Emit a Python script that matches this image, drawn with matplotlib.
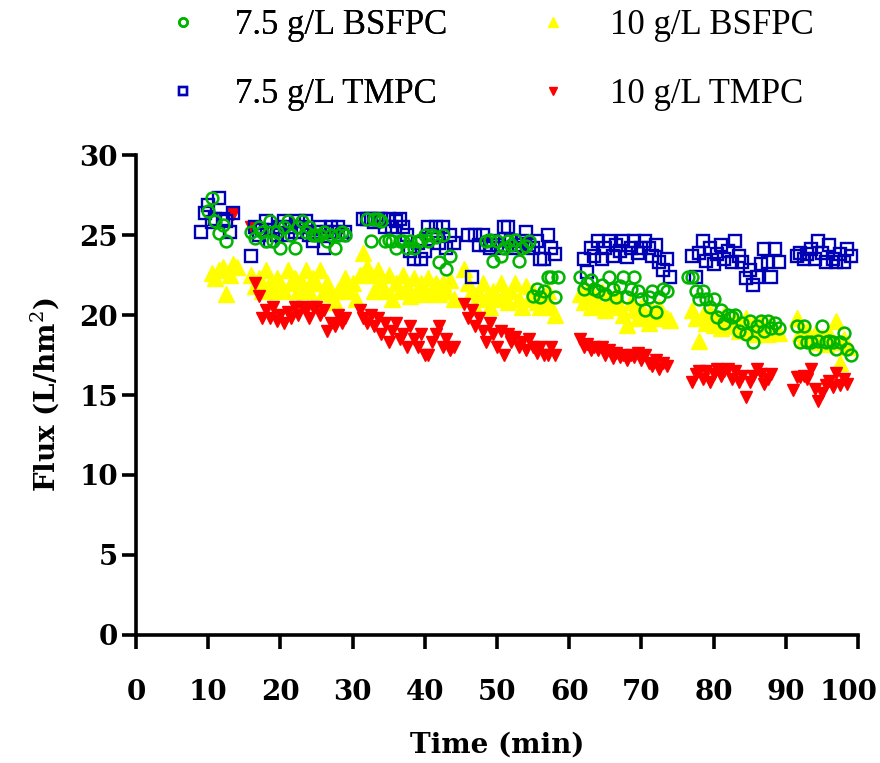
import matplotlib
matplotlib.use('Agg')
import matplotlib.pyplot as plt
from matplotlib.transforms import ScaledTranslation

plt.rcParams['font.family'] = ['DejaVu Serif']
plt.rcParams['mathtext.fontset'] = 'dejavuserif'

# 7.5 g/L BSFPC
green_t = [10, 10.5, 11, 11.5, 12, 12.5,
           16, 16.5, 17, 17.5, 18, 18.5, 19, 19.5, 20, 20.5, 21, 21.5, 22, 22.5, 23, 23.5, 24, 24.5,
           25, 25.5, 26, 26.5, 27, 27.5, 28, 28.5, 29,
           32, 32.5, 33, 33.5, 34, 34.5, 35, 35.5, 36, 36.5, 37, 37.5, 38, 38.5, 39, 39.5, 40, 40.5,
           41, 41.5, 42, 42.5, 43, 43.5,
           48.5, 49, 49.5, 50, 50.5, 51, 51.5, 52, 52.5, 53, 53.5, 54, 54.5, 55, 55.5, 56, 56.5, 57,
           57.5, 58, 58.5,
           61.5, 62, 62.5, 63, 63.5, 64, 64.5, 65, 65.5, 66, 66.5, 67, 67.5, 68, 68.5, 69, 69.5, 70,
           70.5, 71, 71.5, 72, 72.5, 73, 73.5,
           76.5, 77, 77.5, 78, 78.5, 79, 79.5, 80, 80.5, 81, 81.5, 82, 82.5, 83, 83.5, 84, 84.5, 85,
           85.5, 86, 86.5, 87, 87.5, 88, 88.5, 89,
           91.5, 92, 92.5, 93, 93.5, 94, 94.5, 95, 95.5, 96, 96.5, 97, 97.5, 98, 98.5, 99]
green_v = [26.5, 27.3, 25.9, 25.1, 25.6, 24.6,
           25.2, 24.8, 25.5, 25.2, 24.6, 25.9, 24.6, 25.2, 24.2, 25.5, 25.9, 25.0, 24.2, 25.5, 25.9,
           25.2, 25.5, 25.0, 25.0, 25.0, 25.2, 24.6, 25.0, 24.2, 25.0, 25.2, 25.0,
           26.0, 24.6, 26.0, 26.0, 25.9, 24.6, 24.7, 24.6, 24.2, 24.6, 24.6, 24.2, 24.6, 24.2, 24.6,
           24.7, 25.0, 24.6, 25.0, 24.9, 23.3, 25.0, 22.9, 23.7,
           24.6, 24.7, 23.4, 24.6, 23.7, 24.2, 24.6, 24.4, 24.7, 23.4, 24.2, 24.3, 24.6, 21.2, 21.6,
           21.1, 21.5, 22.4, 22.4, 21.1, 22.4,
           22.4, 21.6, 22.0, 22.2, 21.6, 21.5, 21.9, 21.3, 22.4, 21.6, 21.1, 21.8, 22.4, 21.1, 21.6,
           22.4, 21.5, 21.0, 20.3, 21.1, 21.5, 20.2, 21.1, 21.6, 21.5,
           22.4, 22.4, 21.5, 21.0, 21.5, 21.0, 20.5, 21.0, 19.9, 20.3, 19.5, 20.0, 19.9, 20.0, 19.0,
           19.5, 18.8, 19.6, 18.3, 19.3, 19.6, 19.0, 19.6, 19.2, 19.5, 19.2,
           19.3, 18.3, 19.3, 18.3, 18.3, 17.9, 18.4, 19.3, 18.3, 18.4, 18.3, 17.9, 18.3, 18.9, 17.9, 17.5]

# 7.5 g/L TMPC
blue_t = [9, 9.5, 10, 10.5, 11, 11.5, 12, 12.5, 13, 13.5,
          16, 16.5, 17, 17.5, 18, 18.5, 19, 19.5, 20, 20.5, 21, 21.5, 22, 22.5, 23, 23.5, 24, 24.5,
          25, 25.5, 26, 26.5, 27, 27.5, 28, 28.5, 29,
          31.5, 32, 32.5, 33, 33.5, 34, 34.5, 35, 35.5, 36, 36.5, 37, 37.5, 38, 38.5, 39, 39.5, 40,
          40.5, 41, 41.5, 42, 42.5, 43, 43.5, 44,
          46, 46.5, 47, 47.5, 48, 48.5, 49, 49.5, 50, 50.5, 51, 51.5, 52, 52.5, 53, 53.5, 54, 54.5,
          55, 55.5, 56, 56.5, 57, 57.5, 58,
          62, 62.5, 63, 63.5, 64, 64.5, 65, 65.5, 66, 66.5, 67, 67.5, 68, 68.5, 69, 69.5, 70, 70.5,
          71, 71.5, 72, 72.5, 73, 73.5, 74,
          77, 77.5, 78, 78.5, 79, 79.5, 80, 80.5, 81, 81.5, 82, 82.5, 83, 83.5, 84, 84.5, 85, 85.5,
          86, 86.5, 87, 87.5, 88, 88.5, 89,
          91.5, 92, 92.5, 93, 93.5, 94, 94.5, 95, 95.5, 96, 96.5, 97, 97.5, 98, 98.5, 99]
blue_v = [25.2, 26.4, 26.9, 25.8, 26.0, 27.3, 26.0, 25.9, 25.2, 26.4,
          23.7, 25.5, 25.0, 25.3, 25.9, 24.6, 25.3, 25.0, 25.5, 25.9, 25.0, 25.5, 25.2, 25.9, 25.5,
          25.9, 25.0, 24.6, 25.2, 25.5, 24.2, 25.2, 25.5, 25.2, 25.5, 25.0, 25.2,
          26.0, 26.0, 26.0, 25.8, 26.0, 26.0, 25.5, 26.0, 25.5, 25.9, 26.0, 25.5, 25.0, 24.0, 23.5,
          24.5, 23.5, 24.0, 25.5, 25.0, 25.5, 24.5, 25.5, 24.2, 25.0, 24.5,
          25.0, 22.4, 25.0, 24.4, 25.0, 24.4, 24.2, 24.6, 24.4, 24.2, 25.5, 25.5, 24.6, 24.2, 24.4,
          24.6, 25.2, 24.4, 24.2, 24.6, 23.5, 23.5, 25.0, 24.2, 23.8,
          23.5, 22.7, 24.2, 23.7, 24.6, 23.5, 24.2, 24.6, 23.7, 24.4, 24.0, 24.6, 23.6, 24.2, 24.6,
          23.9, 24.2, 24.6, 24.2, 23.7, 24.4, 23.3, 22.8, 23.5, 22.4,
          23.7, 22.4, 23.9, 24.6, 23.4, 24.2, 23.2, 23.8, 24.4, 23.5, 24.0, 23.3, 24.6, 23.7, 23.3,
          22.3, 22.8, 21.9, 22.4, 23.2, 24.1, 23.3, 22.4, 24.1, 23.3,
          23.7, 23.9, 23.5, 23.8, 24.1, 23.5, 24.6, 23.9, 23.3, 24.4, 23.5, 23.3, 23.8, 23.3, 24.1, 23.7]

# 10 g/L BSFPC
yellow_t = [10.5, 11, 11.5, 12, 12.5, 13, 13.5, 14,
            16, 16.5, 17, 17.5, 18, 18.5, 19, 19.5, 20, 20.5, 21, 21.5, 22, 22.5, 23, 23.5, 24,
            24.5, 25, 25.5, 26, 26.5, 27, 27.5, 28, 28.5, 29, 29.5, 30,
            30.5, 31, 31.5, 32, 32.5, 33, 33.5, 34, 34.5, 35, 35.5, 36, 36.5, 37, 37.5, 38, 38.5, 39,
            39.5, 40, 40.5, 41, 41.5, 42, 42.5, 43, 43.5, 44,
            45.5, 46, 46.5, 47, 47.5, 48, 48.5, 49, 49.5, 50, 50.5, 51, 51.5, 52, 52.5, 53, 53.5, 54,
            54.5, 55, 55.5, 56, 56.5, 57, 57.5, 58,
            61.5, 62, 62.5, 63, 63.5, 64, 64.5, 65, 65.5, 66, 66.5, 67, 67.5, 68, 68.5, 69, 69.5, 70,
            70.5, 71, 71.5, 72, 72.5, 73, 73.5, 74,
            77, 77.5, 78, 78.5, 79, 79.5, 80, 80.5, 81, 81.5, 82, 82.5, 83, 83.5, 84, 84.5, 85, 85.5,
            86, 86.5, 87, 87.5, 88, 88.5, 89,
            91.5, 92, 92.5, 93, 93.5, 94, 94.5, 95, 95.5, 96, 96.5, 97, 97.5, 98, 98.5]
yellow_v = [22.6, 22.3, 22.8, 23.0, 21.3, 22.5, 23.2, 23.0,
            22.5, 21.8, 22.3, 21.5, 22.8, 22.0, 21.5, 22.3, 22.0, 21.5, 22.8, 22.0, 22.3, 21.5, 22.0,
            22.8, 21.5, 22.3, 22.0, 22.8, 21.5, 22.0, 21.3, 20.8, 21.5, 21.8, 22.3, 21.5, 22.0,
            21.0, 22.5, 23.9, 23.0, 22.5, 21.5, 22.8, 22.0, 21.5, 22.5, 21.0, 22.0, 21.5, 22.5, 21.8,
            21.2, 22.3, 21.5, 22.0, 21.3, 22.3, 21.5, 22.0, 21.3, 22.0, 21.5, 22.2, 21.0,
            22.9, 22.0, 21.5, 20.5, 21.3, 22.0, 21.0, 20.5, 21.5, 21.0, 22.0, 21.3, 20.8, 21.5, 22.0,
            21.0, 20.5, 21.8, 21.0, 21.5, 20.8, 20.5, 21.0, 21.5, 20.5, 20.0,
            21.3, 20.8, 21.5, 20.5, 21.2, 20.7, 21.5, 20.3, 21.0, 20.6, 21.3, 20.5, 20.0, 19.4, 20.8,
            20.3, 19.8, 20.5, 20.0, 19.5, 20.3, 19.8, 20.5, 20.0, 19.8, 19.7,
            20.3, 19.8, 18.4, 20.0, 19.5, 20.2, 19.4, 19.8, 19.2, 20.0, 19.6, 19.3, 19.8, 19.0, 19.5,
            19.8, 19.0, 19.4, 18.8, 19.5, 19.0, 18.8, 19.5, 19.0, 18.9,
            19.8, 18.9, 18.5, 19.0, 18.5, 18.8, 18.3, 18.6, 18.2, 18.8, 18.3, 19.6, 17.0, 18.5, 18.0]

# 10 g/L TMPC
red_t = [13.5,
         16, 16.5, 17, 17.5, 18, 18.5, 19, 19.5, 20, 20.5, 21, 21.5, 22, 22.5, 23, 23.5, 24, 24.5,
         25, 25.5, 26, 26.5, 27, 27.5, 28, 28.5, 29,
         31, 31.5, 32, 32.5, 33, 33.5, 34, 34.5, 35, 35.5, 36, 36.5, 37, 37.5, 38, 38.5, 39, 39.5,
         40, 40.5, 41, 41.5, 42, 42.5, 43, 43.5, 44,
         45.5, 46, 46.5, 47, 47.5, 48, 48.5, 49, 49.5, 50, 50.5, 51, 51.5, 52, 52.5, 53, 53.5, 54,
         54.5, 55, 55.5, 56, 56.5, 57, 57.5, 58,
         61.5, 62, 62.5, 63, 63.5, 64, 64.5, 65, 65.5, 66, 66.5, 67, 67.5, 68, 68.5, 69, 69.5, 70,
         70.5, 71, 71.5, 72, 72.5, 73, 73.5,
         77, 77.5, 78, 78.5, 79, 79.5, 80, 80.5, 81, 81.5, 82, 82.5, 83, 83.5, 84, 84.5, 85, 85.5,
         86, 86.5, 87, 87.5, 88,
         91, 91.5, 92, 92.5, 93, 93.5, 94, 94.5, 95, 95.5, 96, 96.5, 97, 97.5, 98, 98.5]
red_v = [26.3,
         25.5, 22.0, 21.2, 19.8, 20.3, 19.8, 20.5, 19.6, 20.0, 19.5, 20.2, 19.8, 20.5, 20.0, 20.5,
         20.3, 19.8, 20.5, 20.5, 20.0, 20.3, 19.0, 19.5, 19.3, 20.0, 19.5, 19.8,
         20.3, 19.8, 19.5, 20.0, 19.3, 19.8, 18.8, 19.5, 18.3, 19.0, 19.5, 18.5, 18.8, 18.0, 19.3,
         18.5, 18.0, 18.8, 17.5, 17.5, 18.3, 18.8, 19.3, 18.0, 18.5, 17.8, 18.0,
         20.7, 19.8, 20.3, 19.3, 19.8, 19.0, 18.3, 19.5, 18.8, 18.0, 19.0, 17.5, 18.8, 18.3, 18.6,
         18.0, 18.3, 17.8, 18.5, 18.0, 17.6, 18.0, 17.5, 17.5, 18.0, 17.5,
         18.5, 18.0, 18.2, 17.8, 18.0, 17.8, 18.0, 17.5, 17.8, 17.3, 17.6, 17.4, 17.5, 17.2, 17.5,
         17.4, 17.6, 17.2, 17.5, 17.0, 16.8, 17.2, 16.6, 17.0, 16.8,
         15.8, 16.3, 16.5, 16.0, 16.5, 15.8, 16.3, 16.6, 16.2, 16.5, 16.6, 16.0, 16.5, 15.8, 16.2,
         14.9, 15.8, 16.2, 16.6, 16.3, 15.7, 16.0, 16.3,
         15.3, 16.1, 16.1, 16.2, 16.0, 16.6, 15.4, 14.6, 15.1, 15.6, 15.9, 15.5, 16.4, 15.6, 16.0, 15.7]

x_ticks = [0, 10, 20, 30, 40, 50, 60, 70, 80, 90, 100]
y_ticks = [0, 5, 10, 15, 20, 25, 30]

fig = plt.figure(figsize=(8.8, 7.63), dpi=100)
ax = fig.add_axes([0.1545, 0.1678, 0.8205, 0.629])

yl, = ax.plot(yellow_t, yellow_v, ls='none', marker='^', ms=11, mfc='#ffff00', mec='#ffff00',
              label='10 g/L BSFPC', zorder=2, clip_on=False)
rl, = ax.plot(red_t, red_v, ls='none', marker='v', ms=9, mfc='#ff0000', mec='#ff0000',
              label='10 g/L TMPC', zorder=3, clip_on=False)
bl, = ax.plot(blue_t, blue_v, ls='none', marker='s', ms=8, mfc='none', mec='#0000b4', mew=1.7,
              label='7.5 g/L TMPC', zorder=4, clip_on=False)
gl, = ax.plot(green_t, green_v, ls='none', marker='o', ms=8.5, mfc='none', mec='#00b400', mew=1.8,
              label='7.5 g/L BSFPC', zorder=5, clip_on=False)

ax.set_xlim(0, 100)
ax.set_ylim(0, 30)
ax.set_xticks(x_ticks)
ax.set_yticks(y_ticks)
for s in ['top', 'right']:
    ax.spines[s].set_visible(False)
for s in ['left', 'bottom']:
    ax.spines[s].set_linewidth(2.6)
ax.tick_params(axis='both', direction='out', length=10, width=2.6, labelsize=20)
ax.tick_params(axis='x', pad=22)
ax.tick_params(axis='y', pad=3)
for lab in ax.get_xticklabels() + ax.get_yticklabels():
    lab.set_fontweight('bold')

ax.set_xlabel('Time (min)', fontsize=20, fontweight='bold')
ax.set_ylabel('Flux (L/hm$^2$)', fontsize=20, fontweight='bold')
ax.xaxis.set_label_coords(0.5, -0.229)
ax.xaxis.label.set_va('center')
ax.yaxis.set_label_coords(-0.126, 0.5)
ax.yaxis.label.set_va('center')

# legend: two separate columns above the plot
leg_kw = dict(loc='upper left', frameon=False, markerscale=0.7, handlelength=0.6,
              labelspacing=1.04, borderpad=0, borderaxespad=0,
              prop={'family': 'Liberation Serif', 'size': 25})
leg1 = fig.legend(handles=[gl, bl], bbox_to_anchor=(172.5 / 880, 1 - 9 / 763),
                  handletextpad=1.2, **leg_kw)
fig.add_artist(leg1)
fig.legend(handles=[yl, rl], bbox_to_anchor=(542.5 / 880, 1 - 9 / 763),
           handletextpad=1.33, **leg_kw)

# keep the last x tick label inside the figure, as in the reference
fig.canvas.draw()
last = ax.xaxis.get_major_ticks()[-1].label1
last.set_transform(last.get_transform() + ScaledTranslation(-10 / 100, 0, fig.dpi_scale_trans))

fig.savefig('out.png', dpi=100)
